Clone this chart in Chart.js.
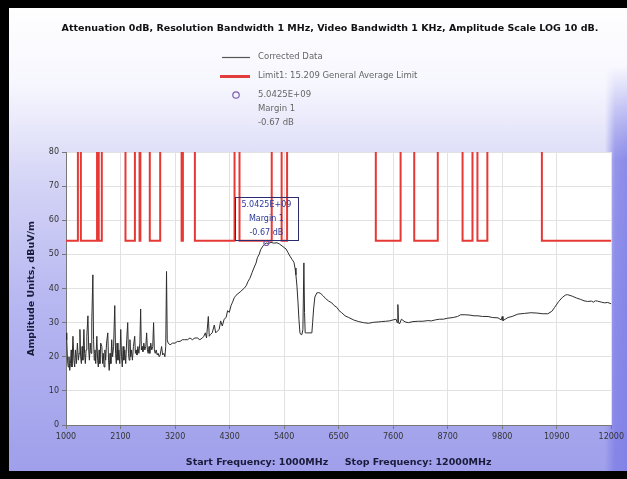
<!DOCTYPE html>
<html>
<head>
<meta charset="utf-8">
<script src="https://cdn.jsdelivr.net/npm/chart.js@4.4.0/dist/chart.umd.min.js"></script>
<style>
  html, body { margin: 0; padding: 0; background: #fff; }
  #wrap {
    position: relative; width: 627px; height: 479px; overflow: hidden;
    background: linear-gradient(to bottom, #ffffff 0%, #f6f6fe 18%, #d4d4f6 38%, #b6b6f1 64%, #9e9eeb 100%);
    box-shadow: inset 9px 0 0 #000, inset 0 8px 0 #000, inset 0 -8px 0 #000;
  }
  #edge {
    position: absolute; right: 0; top: 0; width: 22px; height: 471px;
    background: linear-gradient(to right, rgba(125,125,230,0) 0%, rgba(125,125,230,0.75) 45%, rgba(125,125,230,0.85) 100%);
    -webkit-mask-image: linear-gradient(to bottom, transparent 0%, transparent 14%, #000 34%, #000 100%);
    mask-image: linear-gradient(to bottom, transparent 0%, transparent 14%, #000 34%, #000 100%);
  }
  canvas { position: absolute; left: 0; top: 0; }
</style>
</head>
<body>
<div id="wrap"><div id="edge"></div><canvas id="chart" width="627" height="479"></canvas></div>
<script>
const traceFreq = [
  1000,1015,1030,1045,1060,1075,1090,1105,1120,1140,1160,1175,1190,1210,1230,1250,1265,1281,1295,1310,
  1325,1340,1361,1375,1390,1405,1420,1442,1458,1472,1488,1505,1520,1542,1556,1570,1585,1600,1622,1638,
  1652,1668,1684,1700,1723,1738,1752,1768,1785,1800,1818,1843,1858,1872,1888,1905,1922,1940,1960,1984,
  2000,2015,2030,2048,2065,2085,2104,2120,2136,2152,2168,2185,2205,2225,2245,2260,2275,2290,2305,2320,
  2340,2360,2386,2400,2415,2432,2450,2470,2490,2506,2520,2535,2552,2570,2590,2610,2627,2642,2658,2675,
  2690,2710,2730,2750,2767,2782,2800,2820,2840,2860,2880,2900,2928,2950,2975,2995,3012,3028,3042,3060,
  3100,3150,3200,3250,3300,3350,3390,3450,3500,3550,3600,3650,3700,3751,3780,3811,3835,3871,3890,3912,
  3950,3992,4020,4052,4090,4120,4153,4190,4230,4260,4293,4330,4360,4394,4430,4470,4514,4550,4590,4635,
  4670,4710,4755,4790,4835,4860,4896,4930,4976,5010,5042.5,5080,5137,5190,5257,5310,5357,5400,5438,5480,
  5518,5560,5598,5620,5638,5659,5680,5699,5719,5739,5759,5779,5799,5812,5825,5850,5880,5920,5960,5975,
  5995,6020,6060,6100,6141,6190,6241,6300,6361,6410,6462,6510,6562,6630,6703,6800,6904,7000,7104,7200,
  7300,7365,7450,7520,7600,7660,7680,7695,7707,7727,7767,7840,7908,8000,8108,8200,8300,8369,8450,8530,
  8610,8700,8811,8900,8960,9052,9150,9230,9313,9400,9514,9600,9715,9780,9800,9815,9860,9916,10000,10116,
  10250,10378,10500,10618,10719,10800,10859,10940,11020,11080,11120,11221,11300,11382,11450,11522,11600,11640,11680,11723,
  11800,11863,11930,12000
];
const traceLevel = [
  27,25,19,17,20,16,18,22,17,26,19,17,22,18,24,19,21,28,20,18,
  23,19,28,21,18,22,26,32,22,19,24,21,30,44,25,19,22,18,26,19,
  17,22,18,24,23,18,21,17,22,19,24,27,19,16,21,18,25,20,23,35,
  21,18,24,19,22,18,28,20,17,23,19,22,18,25,30,21,19,25,20,22,
  19,23,26,21,22,20.5,23,21,24,34,22,23,21.5,24,22,23,27,22,21,23,
  21,24,22,23,30,22,21,22,20.5,21,20,20.5,23,20.5,21,20,23,45,25,24,
  23.5,24,24,24.5,24.5,25,25,25,25.5,25,25.5,25.5,25,25.5,26,27,25.5,31.8,26,26.5,
  27,29.3,27,27.5,28,30.5,29,31,31.5,33.5,33,35,36,37.3,38,38.5,39,39.5,40,40.8,
  42,43,44.7,46,47.5,49,50,51.5,52.5,53,53.33,53.2,53.5,53.3,53.4,53,52.5,52,51.6,50.5,
  49.5,48.5,47.7,46,44,40.7,36,31,27,26.5,26.5,28,47.5,33,27,27,27,27,27,30,
  34,37.5,38.7,38.8,38.5,37.8,37,36.3,35.8,35,34.5,33.5,32.9,32,31.5,30.8,30.3,30,29.8,30.1,
  30.2,30.3,30.4,30.5,30.8,31,30,35.3,30,29.6,31,30.2,30,30.3,30.4,30.4,30.6,30.5,30.8,31,
  31,31.3,31.5,31.8,32.3,32.3,32.2,32,32,31.8,31.8,31.5,31.4,30.8,31.8,30.6,31,31.5,31.8,32.5,
  32.7,32.9,32.8,32.6,32.6,33.3,34.5,36.2,37.5,38.1,38.2,37.7,37.2,36.8,36.4,36.2,36.3,36,36.4,36.3,
  36,35.8,35.9,35.5
];

// bands where the 54 dBuV/m average limit is drawn (MHz), as seen on the plot
const bandStart = [960,1300,1660,2200,2483.5,2690,3332,3600,4500,5350,7250,8025,9000,9300,10600];
const bandStop  = [1240,1626.5,1722.2,2390,2500,2900,3358,4400,5150,5460,7750,8500,9200,9500,12700];
const limitLevel = 54;
const limitOff = 120;

const xMin = 1000, xMax = 12000, xStep = 1100;
const yMin = 0, yMax = 80, yStep = 10;

const peakFreq = 5042.5;
const peakLevel = 53.33;
const peakText = ['5.0425E+09', 'Margin 1', '-0.67 dB'];

const titleText = 'Attenuation 0dB, Resolution Bandwidth 1 MHz, Video Bandwidth 1 KHz, Amplitude Scale LOG 10 dB.';
const legendTrace = 'Corrected Data';
const legendLimit = 'Limit1: 15.209 General Average Limit';

// build the limit step line from the band lists
const limitPoints = [];
bandStart.forEach((s, i) => {
  const a = Math.max(s, xMin), b = Math.min(bandStop[i], xMax);
  if (i > 0) limitPoints.push({ x: a, y: limitOff });
  limitPoints.push({ x: a, y: limitLevel });
  limitPoints.push({ x: b, y: limitLevel });
  if (i < bandStart.length - 1) limitPoints.push({ x: b, y: limitOff });
});

const tracePoints = traceFreq.map((f, i) => ({ x: f, y: traceLevel[i] }));

const FONT = 'DejaVu Sans';

const decor = {
  id: 'decor',
  beforeDraw(chart) {
    const { ctx, chartArea: a } = chart;
    ctx.save();
    ctx.fillStyle = '#ffffff';
    ctx.fillRect(a.left, a.top, a.right - a.left, a.bottom - a.top);
    ctx.restore();
  },
  afterDraw(chart) {
    const { ctx, scales } = chart;
    ctx.save();
    // title
    ctx.fillStyle = '#111';
    ctx.font = 'bold 9.5px ' + FONT;
    ctx.textAlign = 'center';
    ctx.textBaseline = 'middle';
    ctx.fillText(titleText, 330, 29);

    // legend
    ctx.textAlign = 'left';
    ctx.font = '8.5px ' + FONT;
    ctx.lineWidth = 1.2;
    ctx.strokeStyle = '#555';
    ctx.beginPath(); ctx.moveTo(222, 57.5); ctx.lineTo(250, 57.5); ctx.stroke();
    ctx.lineWidth = 3;
    ctx.strokeStyle = '#e23c3c';
    ctx.beginPath(); ctx.moveTo(220, 76.5); ctx.lineTo(250, 76.5); ctx.stroke();
    ctx.lineWidth = 1.2;
    ctx.strokeStyle = '#7c5cae';
    ctx.beginPath(); ctx.arc(236, 95, 3.2, 0, Math.PI * 2); ctx.stroke();
    ctx.fillStyle = '#666';
    ctx.fillText(legendTrace, 258, 57);
    ctx.fillText(legendLimit, 258, 76);
    peakText.forEach((t, i) => ctx.fillText(t, 258, 95 + i * 14));

    // peak marker and its label box
    const px = scales.x.getPixelForValue(peakFreq);
    const py = scales.y.getPixelForValue(peakLevel);
    ctx.strokeStyle = '#7c5cae';
    ctx.beginPath(); ctx.arc(px, py, 2.5, 0, Math.PI * 2); ctx.stroke();
    ctx.strokeStyle = '#2b2b70';
    ctx.lineWidth = 1;
    ctx.strokeRect(Math.round(px - 31) + 0.5, Math.round(py - 46) + 0.5, 63, 43);
    ctx.font = '8px ' + FONT;
    ctx.fillStyle = '#2d3a99';
    ctx.textAlign = 'center';
    peakText.forEach((t, i) => ctx.fillText(t, px, py - 38 + i * 14));
    ctx.restore();
  }
};

new Chart(document.getElementById('chart'), {
  type: 'line',
  data: {
    datasets: [
      {
        label: legendTrace,
        data: tracePoints,
        borderColor: '#2e2e2e',
        borderWidth: 1,
        pointRadius: 0,
        tension: 0
      },
      {
        label: legendLimit,
        data: limitPoints,
        borderColor: '#e53935',
        borderWidth: 2,
        pointRadius: 0,
        tension: 0
      }
    ]
  },
  options: {
    responsive: false,
    animation: false,
    devicePixelRatio: 1,
    layout: { padding: { left: 24, right: 13, top: 152, bottom: 9 } },
    plugins: { legend: { display: false }, title: { display: false }, tooltip: { enabled: false } },
    scales: {
      x: {
        type: 'linear',
        min: xMin, max: xMax,
        afterFit(s) { s.height = 45; },
        afterBuildTicks(s) {
          const t = [];
          for (let v = xMin; v <= xMax; v += xStep) t.push({ value: v });
          s.ticks = t;
        },
        ticks: { color: '#333', font: { family: FONT, size: 8 }, padding: 3, maxRotation: 0, autoSkip: false,
                 callback: v => String(v) },
        grid: { color: '#e2e2e2', tickColor: '#777', tickLength: 4 },
        border: { color: '#777' },
        title: { display: true, text: 'Start Frequency: 1000MHz     Stop Frequency: 12000MHz',
                 color: '#1a1a3a', font: { family: FONT, size: 9.5, weight: 'bold' }, padding: { top: 0, bottom: 2 } }
      },
      y: {
        min: yMin, max: yMax,
        afterFit(s) { s.width = 42; },
        ticks: { stepSize: yStep, color: '#333', font: { family: FONT, size: 8 }, padding: 3 },
        grid: { color: '#e2e2e2', tickColor: '#777', tickLength: 4 },
        border: { color: '#777' },
        title: { display: true, text: 'Amplitude Units, dBuV/m',
                 color: '#1a1a3a', font: { family: FONT, size: 9.5, weight: 'bold' }, padding: { top: 2, bottom: 0 } }
      }
    }
  },
  plugins: [decor]
});
</script>
</body>
</html>
